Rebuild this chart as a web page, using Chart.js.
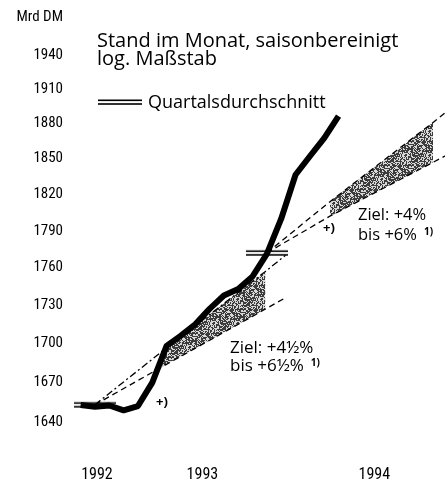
<!DOCTYPE html>
<html>
<head>
<meta charset="utf-8">
<title>Geldmenge M3</title>
<script src="https://cdn.jsdelivr.net/npm/chart.js@4/dist/chart.umd.min.js"></script>
<style>
  html, body { margin: 0; padding: 0; background: #fff; }
  #wrap { position: relative; width: 445px; height: 484px; }
</style>
</head>
<body>
<div id="wrap"><canvas id="m3-chart"></canvas></div>
<script>
// x = Monate ab Januar 1992 (0), Werte in Mrd DM
var months = [9.5, 10.5, 11.5, 12.5, 13.5, 14.5, 15.5, 16.5, 17.5, 18.5,
              19.5, 20.5, 21.5, 22.5, 23.5, 24.5, 25.5, 26.5, 27.5];
var m3Values = [1652.8, 1651.5, 1652.4, 1648.8, 1652.0, 1669.8, 1698.1, 1706.1, 1715.0, 1727.1,
                1737.7, 1742.9, 1753.0, 1771.1, 1799.9, 1836.5, 1852.1, 1867.6, 1886.5];

var quarterMonths = [10.5, 22.5];
var quarterAvg = [1653, 1772];

// Zielkorridore: Basis, Beginn Schraffur, Ende Schraffur, Ende Linie
var corridor93Months = [10.5, 15.2, 22.4, 23.8];
var corridor93Upper = [1653, 1694, 1757, 1770];
var corridor93Lower = [1653, 1682, 1727, 1736];
var corridor94Months = [22.5, 26.9, 34.1, 35.2];
var corridor94Upper = [1772, 1814, 1881, 1892];
var corridor94Lower = [1772, 1802, 1847, 1854];

var yTicks = [1640, 1670, 1700, 1730, 1760, 1790, 1820, 1850, 1880, 1910, 1940];
var yearLabels = ["1992", "1993", "1994"];
var yearTickMonths = [10.64, 18, 30];

var tickFont = "'Liberation Sans Narrow', 'Roboto Condensed', Roboto, sans-serif";
var textFont = "'Open Sans', 'Noto Sans', sans-serif";

function toPoints(xs, ys, from, to) {
    var pts = [];
    for (var i = from || 0; i < (to === undefined ? xs.length : to); i++) {
        pts.push({x: xs[i], y: ys[i]});
    }
    return pts;
}

// Punktraster fuer die Zielkorridore (fester Hash, kein Zufall)
function grain(x, y) {
    var h = Math.imul(x, 374761393) + Math.imul(y, 668265263);
    h = Math.imul(h ^ (h >>> 13), 1274126177);
    return ((h ^ (h >>> 16)) >>> 0) / 4294967296;
}

function makeStipple() {
    var size = 24;
    var c = document.createElement("canvas");
    c.width = size; c.height = size;
    var g = c.getContext("2d");
    var img = g.createImageData(size, size);
    for (var y = 0; y < size; y++) {
        for (var x = 0; x < size; x++) {
            var v = grain(x, y) < 0.55 ? 60 : 215;
            var i = (y * size + x) * 4;
            img.data[i] = v; img.data[i + 1] = v; img.data[i + 2] = v; img.data[i + 3] = 255;
        }
    }
    g.putImageData(img, 0, 0);
    return g.createPattern(c, "repeat");
}

function makeDoubleBar(w) {
    var c = document.createElement("canvas");
    c.width = w; c.height = 8;
    var g = c.getContext("2d");
    g.fillStyle = "#000";
    g.fillRect(0, 1.5, w, 1.6);
    g.fillRect(0, 5.2, w, 1.6);
    return c;
}

var stipple = makeStipple();
var markerBar = makeDoubleBar(42);
var legendBar = makeDoubleBar(44);

function dashed(label, xs, ys, dash) {
    return {
        label: label,
        data: toPoints(xs, ys),
        borderColor: "#000",
        borderWidth: 1.3,
        borderDash: dash,
        pointRadius: 0,
        fill: false
    };
}

function corridorEdge(label, xs, ys, filled) {
    return {
        label: label,
        data: toPoints(xs, ys, 1, 3),
        borderWidth: 0,
        pointRadius: 0,
        backgroundColor: stipple,
        fill: filled ? "-1" : false
    };
}

var textPlugin = {
    id: "bbkTexts",
    afterDraw: function(chart) {
        var ctx = chart.ctx;
        ctx.save();
        ctx.fillStyle = "#000";
        ctx.textBaseline = "middle";

        ctx.font = "15px " + tickFont;
        ctx.textAlign = "right";
        ctx.fillText("Mrd DM", 63, 17);

        ctx.textAlign = "left";
        ctx.textBaseline = "alphabetic";
        ctx.font = "20px " + textFont;
        ctx.fillText("Stand im Monat, saisonbereinigt", 97, 47);
        ctx.fillText("log. Maßstab", 97, 65);

        ctx.drawImage(legendBar, 98, 98);
        ctx.font = "18px " + textFont;
        ctx.fillText("Quartalsdurchschnitt", 148, 108);

        ctx.textBaseline = "middle";
        ctx.font = "17px " + textFont;
        ctx.fillText("Ziel: +4½%", 230, 348);
        ctx.fillText("bis +6½%", 230, 366);
        var w1 = ctx.measureText("bis +6½%").width;
        ctx.font = "16.5px " + textFont;
        ctx.fillText("Ziel: +4%", 358, 215);
        ctx.fillText("bis +6%", 358, 235);
        var w2 = ctx.measureText("bis +6%").width;

        ctx.font = "bold 10px " + textFont;
        ctx.fillText("1)", 230 + w1 + 7, 363);
        ctx.fillText("1)", 358 + w2 + 7, 232);

        ctx.font = "bold 13px " + textFont;
        ctx.fillText("+)", 156, 402);
        ctx.fillText("+)", 323, 228);
        ctx.restore();
    }
};

var ctx = document.getElementById("m3-chart");
new Chart(ctx, {
    type: "line",
    data: {
        datasets: [
            {
                label: "M3",
                data: toPoints(months, m3Values),
                borderColor: "#000",
                borderWidth: 6,
                borderJoinStyle: "round",
                borderCapStyle: "butt",
                pointRadius: 0,
                fill: false
            },
            {
                label: "Quartalsdurchschnitt",
                data: toPoints(quarterMonths, quarterAvg),
                showLine: false,
                pointStyle: markerBar,
                pointRadius: 3
            },
            dashed("Ziel 1993 oben", corridor93Months, corridor93Upper, [7, 3, 2, 3]),
            dashed("Ziel 1993 unten", corridor93Months, corridor93Lower, [6, 4]),
            dashed("Ziel 1994 oben", corridor94Months, corridor94Upper, [6, 4]),
            dashed("Ziel 1994 unten", corridor94Months, corridor94Lower, [6, 4]),
            corridorEdge("Korridor 1993 oben", corridor93Months, corridor93Upper, false),
            corridorEdge("Korridor 1993 unten", corridor93Months, corridor93Lower, true),
            corridorEdge("Korridor 1994 oben", corridor94Months, corridor94Upper, false),
            corridorEdge("Korridor 1994 unten", corridor94Months, corridor94Lower, true)
        ]
    },
    options: {
        responsive: true,
        maintainAspectRatio: false,
        animation: false,
        layout: { padding: 0, autoPadding: false },
        plugins: {
            legend: { display: false },
            tooltip: { enabled: false },
            title: { display: false }
        },
        scales: {
            x: {
                type: "linear",
                min: 8.48,
                max: 34.93,
                grid: { display: false, drawTicks: false },
                border: { display: false },
                ticks: {
                    color: "#000",
                    padding: 10,
                    autoSkip: false,
                    maxRotation: 0,
                    font: { family: tickFont, size: 16 },
                    callback: function(value, index) {
                        return yearLabels[index];
                    }
                },
                afterBuildTicks: function(scale) {
                    scale.ticks = yearTickMonths.map(function(m){ return {value: m}; });
                },
                afterFit: function(scale) {
                    scale.height = 29;
                    scale.paddingLeft = 0;
                    scale.paddingRight = 0;
                }
            },
            y: {
                type: "logarithmic",
                min: 1615.4,
                max: 1989.4,
                grid: { display: false, drawTicks: false },
                border: { display: false },
                ticks: {
                    color: "#000",
                    padding: 3,
                    autoSkip: false,
                    font: { family: tickFont, size: 15 },
                    callback: function(value) {
                        return String(value);
                    }
                },
                afterBuildTicks: function(scale) {
                    scale.ticks = yTicks.map(function(v){ return {value: v}; });
                },
                afterFit: function(scale) {
                    scale.width = 66;
                    scale.paddingTop = 0;
                    scale.paddingBottom = 0;
                }
            }
        }
    },
    plugins: [textPlugin]
});
</script>
</body>
</html>
